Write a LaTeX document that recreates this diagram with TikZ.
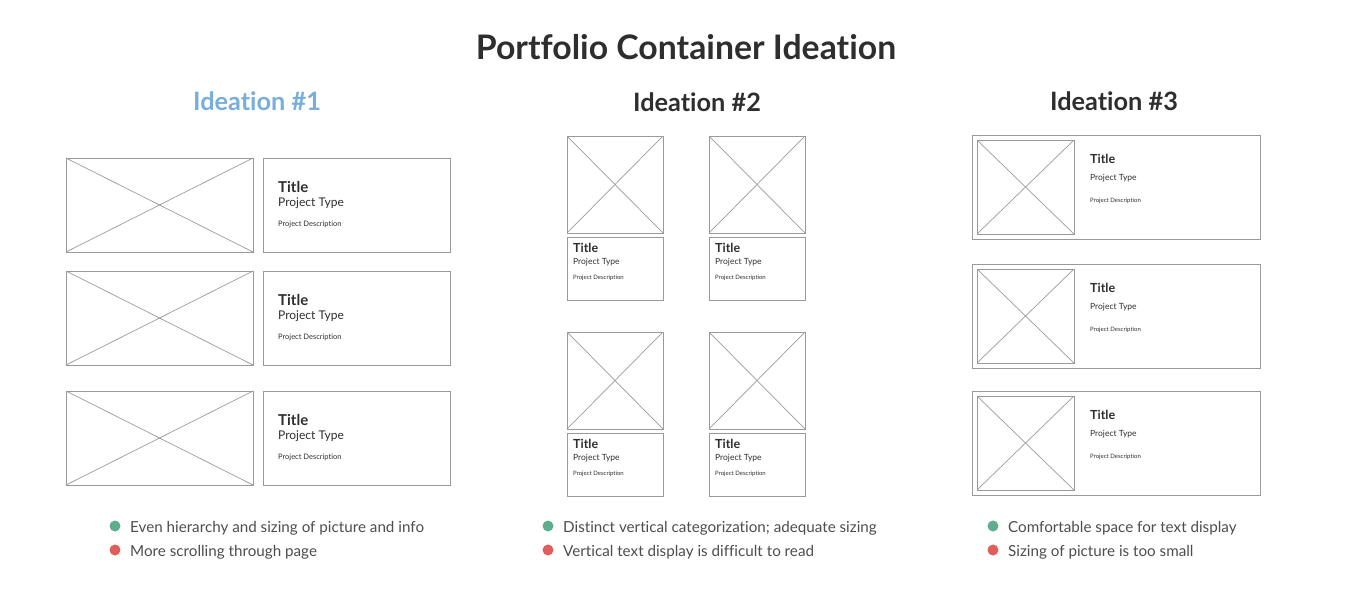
\documentclass[tikz,border=0pt]{standalone}
\usepackage{fontspec}
\setmainfont{Lato}[Ligatures=NoCommon]
\definecolor{ink}{HTML}{2E2E2E}
\definecolor{wire}{HTML}{9A9A9A}
\definecolor{blueh}{HTML}{78AEDB}
\definecolor{goodc}{HTML}{5DAD8E}
\definecolor{badc}{HTML}{E05E5C}
\tikzset{
  img/.style={draw=wire, line width=0.9pt, inner sep=0pt, outer sep=0pt},
  cross/.style={draw=wire, line width=0.7pt},
  ttl/.style={anchor=west, inner sep=0pt, text=ink, font=\fontsize{15}{15}\selectfont\bfseries},
  ptype/.style={anchor=west, inner sep=0pt, text=ink, font=\fontsize{12}{12}\selectfont},
  pdesc/.style={anchor=west, inner sep=0pt, text=ink, font=\fontsize{7.5}{7.5}\selectfont},
  ttls/.style={anchor=west, inner sep=0pt, text=ink, font=\fontsize{12.5}{12.5}\selectfont\bfseries},
  ptypes/.style={anchor=west, inner sep=0pt, text=ink, font=\fontsize{8.5}{8.5}\selectfont},
  pdescs/.style={anchor=west, inner sep=0pt, text=ink, font=\fontsize{6}{6}\selectfont},
  head/.style={inner sep=0pt, text=ink, font=\fontsize{25.3}{25.3}\selectfont\bfseries},
  dot/.style={circle, fill=#1, inner sep=0pt, minimum size=11pt},
  bul/.style={anchor=west, inner sep=0pt, text=ink!85, font=\fontsize{15.2}{15.2}\selectfont},
}
\begin{document}
\begin{tikzpicture}[x=1pt,y=-1pt]
\useasboundingbox (0,0) rectangle (1372,600);
% title
\node[head, font=\fontsize{33.8}{33.8}\selectfont\bfseries] (title) at (686,47) {Portfolio Container Ideation};
\node[head, text=blueh] (h1) at (257,101) {Ideation \#1};
\node[head] (h2) at (697,102) {Ideation \#2};
\node[head] (h3) at (1114,101) {Ideation \#3};

% Ideation 1
\foreach \n/\y in {a/158, b/271, c/391}{
  \coordinate (i1\n nw) at (66,\y);
  \coordinate (i1\n se) at (253,\y+94);
  \draw[img] (i1\n nw) rectangle (i1\n se);
  \draw[cross] (i1\n nw) -- (i1\n se);
  \draw[cross] (66,\y+94) -- (253,\y);
  \coordinate (t1\n nw) at (263,\y);
  \coordinate (t1\n se) at (450,\y+94);
  \draw[img] (t1\n nw) rectangle (t1\n se);
  \node[ttl] (t1\n t) at (278,\y+29) {Title};
  \node[ptype] (t1\n p) at (278,\y+45) {Project Type};
  \node[pdesc] (t1\n d) at (278,\y+66) {Project Description};
}

% Ideation 2
\foreach \n/\x/\y in {a/567/136, b/709/136, c/567/332, d/709/332}{
  \coordinate (i2\n nw) at (\x,\y);
  \coordinate (i2\n se) at (\x+96,\y+97);
  \draw[img] (i2\n nw) rectangle (i2\n se);
  \draw[cross] (i2\n nw) -- (i2\n se);
  \draw[cross] (\x,\y+97) -- (\x+96,\y);
  \coordinate (t2\n nw) at (\x,\y+101);
  \coordinate (t2\n se) at (\x+96,\y+164);
  \draw[img] (t2\n nw) rectangle (t2\n se);
  \node[ttls] (t2\n t) at (\x+6,\y+112) {Title};
  \node[ptypes] (t2\n p) at (\x+6,\y+126) {Project Type};
  \node[pdescs] (t2\n d) at (\x+6,\y+142) {Project Description};
}

% Ideation 3
\foreach \n/\y in {a/135, b/264, c/391}{
  \coordinate (o3\n nw) at (972,\y);
  \coordinate (o3\n se) at (1260,\y+104);
  \draw[img] (o3\n nw) rectangle (o3\n se);
  \coordinate (i3\n nw) at (977,\y+5);
  \coordinate (i3\n se) at (1074,\y+99);
  \draw[img] (i3\n nw) rectangle (i3\n se);
  \draw[cross] (i3\n nw) -- (i3\n se);
  \draw[cross] (977,\y+99) -- (1074,\y+5);
  \node[ttls] (t3\n t) at (1090,\y+24) {Title};
  \node[ptypes] (t3\n p) at (1090,\y+43) {Project Type};
  \node[pdescs] (t3\n d) at (1090,\y+66) {Project Description};
}

% bullets
\node[dot=goodc] (g1) at (115,526) {};
\node[bul] (g1t) at (130,528) {Even hierarchy and sizing of picture and info};
\node[dot=badc] (r1) at (115,550) {};
\node[bul] (r1t) at (130,552) {More scrolling through page};

\node[dot=goodc] (g2) at (548,526) {};
\node[bul] (g2t) at (563,528) {Distinct vertical categorization; adequate sizing};
\node[dot=badc] (r2) at (548,550) {};
\node[bul] (r2t) at (563,552) {Vertical text display is difficult to read};

\node[dot=goodc] (g3) at (993,526) {};
\node[bul] (g3t) at (1008,528) {Comfortable space for text display};
\node[dot=badc] (r3) at (993,550) {};
\node[bul] (r3t) at (1008,552) {Sizing of picture is too small};
\end{tikzpicture}
\end{document}
